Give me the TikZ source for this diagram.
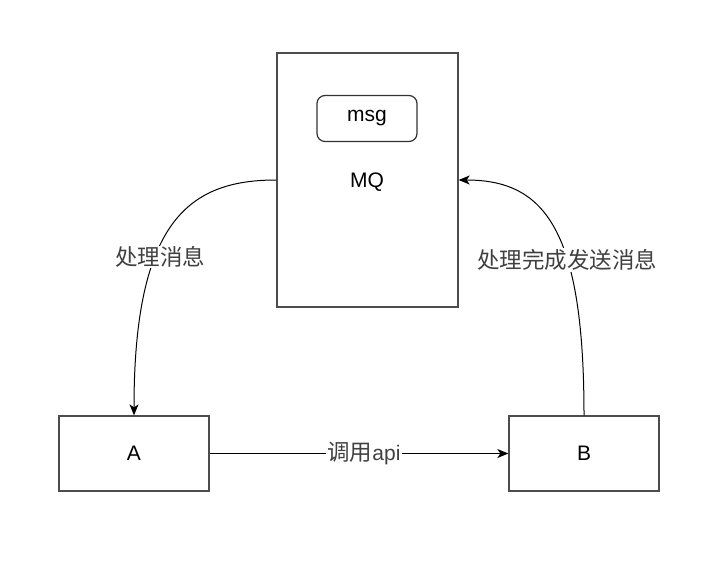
\documentclass[tikz,border=0pt]{standalone}
\usepackage{fontspec}
\setmainfont{Liberation Sans}
\newfontfamily\cjk{Noto Sans CJK SC}
\usetikzlibrary{arrows.meta}
\begin{document}
\begin{tikzpicture}[x=1pt,y=-1pt,
  box/.style={draw=black!70,line width=1.3pt,fill=white,minimum width=150pt,minimum height=75pt,inner sep=0pt,font=\fontsize{21}{25}\selectfont},
  mqbox/.style={draw=black!70,line width=1.3pt,fill=white,minimum width=181pt,minimum height=254pt,inner sep=0pt},
  msgbox/.style={draw=black!80,line width=1.2pt,rounded corners=8pt,minimum width=100pt,minimum height=46pt,inner sep=0pt,font=\fontsize{21}{25}\selectfont},
  plain/.style={inner sep=0pt,font=\fontsize{21}{25}\selectfont},
  lbl/.style={fill=white,inner sep=1pt,text=black!75,font=\cjk\fontsize{22.5}{26}\selectfont},
  edge/.style={draw=black,line width=1pt,-{Stealth[length=11pt,width=9pt,inset=3pt]}}
]
\useasboundingbox (0,0) rectangle (727,562);
\node[mqbox] (mq) at (367.5,180) {};
\node[msgbox] (msg) at (367,118.5) {msg};
\node[plain] (mqt) at (367,182) {MQ};
\node[box] (a) at (134,453.5) {A};
\node[box] (b) at (584,453.5) {B};
\draw[edge] (mq.west) .. controls (190,180) and (134,220) .. (a.north);
\draw[edge] (b.north) .. controls (584,230) and (545,180) .. (mq.east);
\draw[edge] (a.east) -- (b.west) node[lbl,midway,xshift=5pt] {调用\fontspec{Liberation Sans}\fontsize{21}{25}\selectfont api};
\node[lbl] (l1) at (160,257) {处理消息};
\node[lbl] (l2) at (567,260) {处理完成发送消息};
\end{tikzpicture}
\end{document}
